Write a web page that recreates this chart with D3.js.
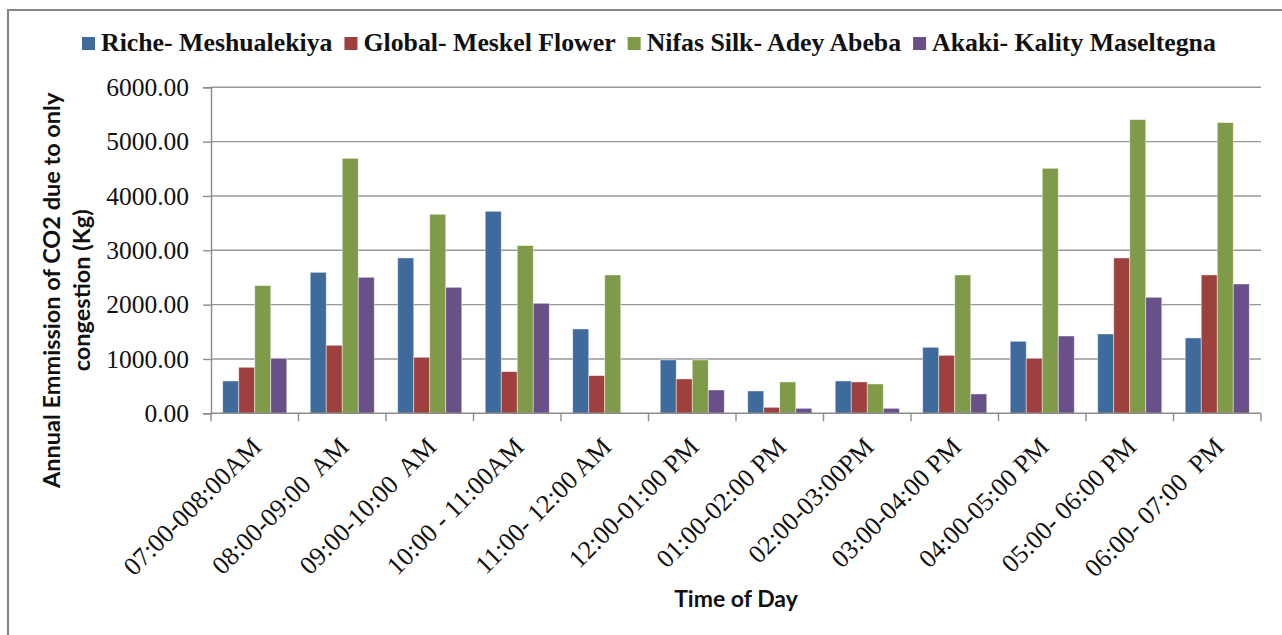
<!DOCTYPE html>
<html>
<head>
<meta charset="utf-8">
<script src="https://cdn.jsdelivr.net/npm/d3@7"></script>
<style>
  html, body { margin: 0; padding: 0; background: #fff; }
  svg { display: block; }
  .serif { font-family: "Liberation Serif", Tinos, "Times New Roman", "DejaVu Serif", serif; }
  .sans { font-family: Lato, "Open Sans", "Liberation Sans", sans-serif; font-weight: bold; }
</style>
</head>
<body>
<svg id="chart" width="1282" height="635"></svg>
<script>
// ---- data ----
const categories = ["07:00-008:00AM", "08:00-09:00  AM", "09:00-10:00  AM", "10:00 - 11:00AM",
  "11:00- 12:00 AM", "12:00-01:00 PM", "01:00-02:00 PM", "02:00-03:00PM",
  "03:00-04:00 PM", "04:00-05:00 PM", "05:00- 06:00 PM", "06:00- 07:00  PM"];
const seriesNames = ["Riche- Meshualekiya", "Global- Meskel Flower", "Nifas Silk- Adey Abeba", "Akaki- Kality Maseltegna"];
const richeValues = [595, 2595, 2859, 3718, 1552, 982, 411, 595, 1215, 1325, 1460, 1387];
const globalValues = [847, 1252, 1031, 767, 693, 632, 110, 577, 1067, 1012, 2859, 2546];
const nifasValues = [2350, 4693, 3663, 3086, 2546, 982, 577, 540, 2546, 4509, 5405, 5350];
const akakiValues = [1012, 2503, 2319, 2025, 0, 429, 92, 92, 356, 1423, 2135, 2380];
const yTickValues = [0, 1000, 2000, 3000, 4000, 5000, 6000];
const seriesColors = ["#3F6A9C", "#9E403D", "#7F9A48", "#6A5088"];
const yTitleLines = ["Annual Emmission of CO2 due to only", "congestion (Kg)"];
const xTitle = "Time of Day";

const allValues = [richeValues, globalValues, nifasValues, akakiValues];

// ---- layout ----
const svg = d3.select("#chart");
const plot = { left: 211, right: 1261, top: 87.3, bottom: 413.3 };

const x0 = d3.scaleBand().domain(categories).range([plot.left, plot.right]).paddingInner(0).paddingOuter(0);
const bw = x0.bandwidth();
const pad = bw * 0.134;
const x1 = d3.scaleBand().domain(d3.range(seriesNames.length)).range([pad, bw - pad]).padding(0);
const y = d3.scaleLinear().domain([0, 6000]).range([plot.bottom, plot.top]);

// frame
svg.append("path").attr("d", `M8,635 L8,10 L1282,10`).attr("fill", "none")
  .attr("stroke", "#868686").attr("stroke-width", 2.2);

// gridlines
svg.append("g").selectAll("line").data(yTickValues.filter(v => v > 0)).join("line")
  .attr("x1", plot.left).attr("x2", plot.right)
  .attr("y1", d => y(d)).attr("y2", d => y(d))
  .attr("stroke", "#979797").attr("stroke-width", 1.4);

// bars
const groups = svg.append("g").selectAll("g").data(categories).join("g")
  .attr("transform", d => `translate(${x0(d)},0)`);
groups.selectAll("rect").data((d, i) => allValues.map((s, j) => ({ j, v: s[i] }))).join("rect")
  .attr("x", d => x1(d.j))
  .attr("width", x1.bandwidth())
  .attr("y", d => y(d.v))
  .attr("height", d => plot.bottom - y(d.v))
  .attr("fill", d => seriesColors[d.j])
  .attr("stroke", d => d.v > 0 ? "rgba(255,255,255,0.55)" : "none")
  .attr("stroke-width", 0.8);

// y axis
const yAxis = d3.axisLeft(y).tickValues(yTickValues).tickFormat(d3.format(".2f")).tickSize(8).tickPadding(14);
const gy = svg.append("g").attr("transform", `translate(${plot.left},0)`).call(yAxis)
  .attr("font-family", null).attr("font-size", null);
gy.select(".domain").attr("stroke", "#8c8c8c").attr("stroke-width", 1.4);
gy.selectAll(".tick line").attr("stroke", "#8c8c8c").attr("stroke-width", 1.4);
gy.selectAll(".tick text").attr("class", "serif")
  .style("font-size", "25.5px").attr("fill", "#111");

// x axis (ticks at category boundaries)
svg.append("line").attr("x1", plot.left).attr("x2", plot.right)
  .attr("y1", plot.bottom).attr("y2", plot.bottom)
  .attr("stroke", "#8c8c8c").attr("stroke-width", 1.4);
const boundaries = categories.map(c => x0(c)).concat([x0(categories[categories.length - 1]) + bw]);
svg.append("g").selectAll("line").data(boundaries).join("line")
  .attr("x1", d => d).attr("x2", d => d)
  .attr("y1", plot.bottom).attr("y2", plot.bottom + 8)
  .attr("stroke", "#8c8c8c").attr("stroke-width", 1.4);

svg.append("g").selectAll("text").data(categories).join("text")
  .attr("class", "serif")
  .attr("transform", d => `translate(${x0(d) + bw / 2 + 8},${plot.bottom + 35}) rotate(-45)`)
  .attr("text-anchor", "end")
  .style("font-size", "26px").attr("fill", "#111")
  .style("white-space", "pre")
  .text(d => d);

// axis titles
const yt = svg.append("text").attr("class", "sans")
  .attr("transform", `translate(0,${(plot.top + plot.bottom) / 2 + 40}) rotate(-90)`)
  .attr("text-anchor", "middle")
  .style("font-size", "23.5px").attr("fill", "#111");
yt.selectAll("tspan").data(yTitleLines).join("tspan")
  .attr("x", 0).attr("y", (d, i) => 60 + i * 30)
  .text(d => d);

svg.append("text").attr("class", "sans").attr("x", (plot.left + plot.right) / 2).attr("y", 607)
  .attr("text-anchor", "middle")
  .style("font-size", "23px").attr("fill", "#111")
  .text(xTitle);

// legend
const legend = svg.append("g");
let lx = 82;
seriesNames.forEach((name, i) => {
  legend.append("rect").attr("x", lx).attr("y", 37).attr("width", 13).attr("height", 13)
    .attr("fill", seriesColors[i]);
  const t = legend.append("text").attr("class", "serif").attr("x", lx + 19).attr("y", 51)
    .style("font-weight", "bold").style("font-size", "25.8px").attr("fill", "#111")
    .text(name);
  lx += 19 + t.node().getComputedTextLength() + 12;
});
</script>
</body>
</html>
